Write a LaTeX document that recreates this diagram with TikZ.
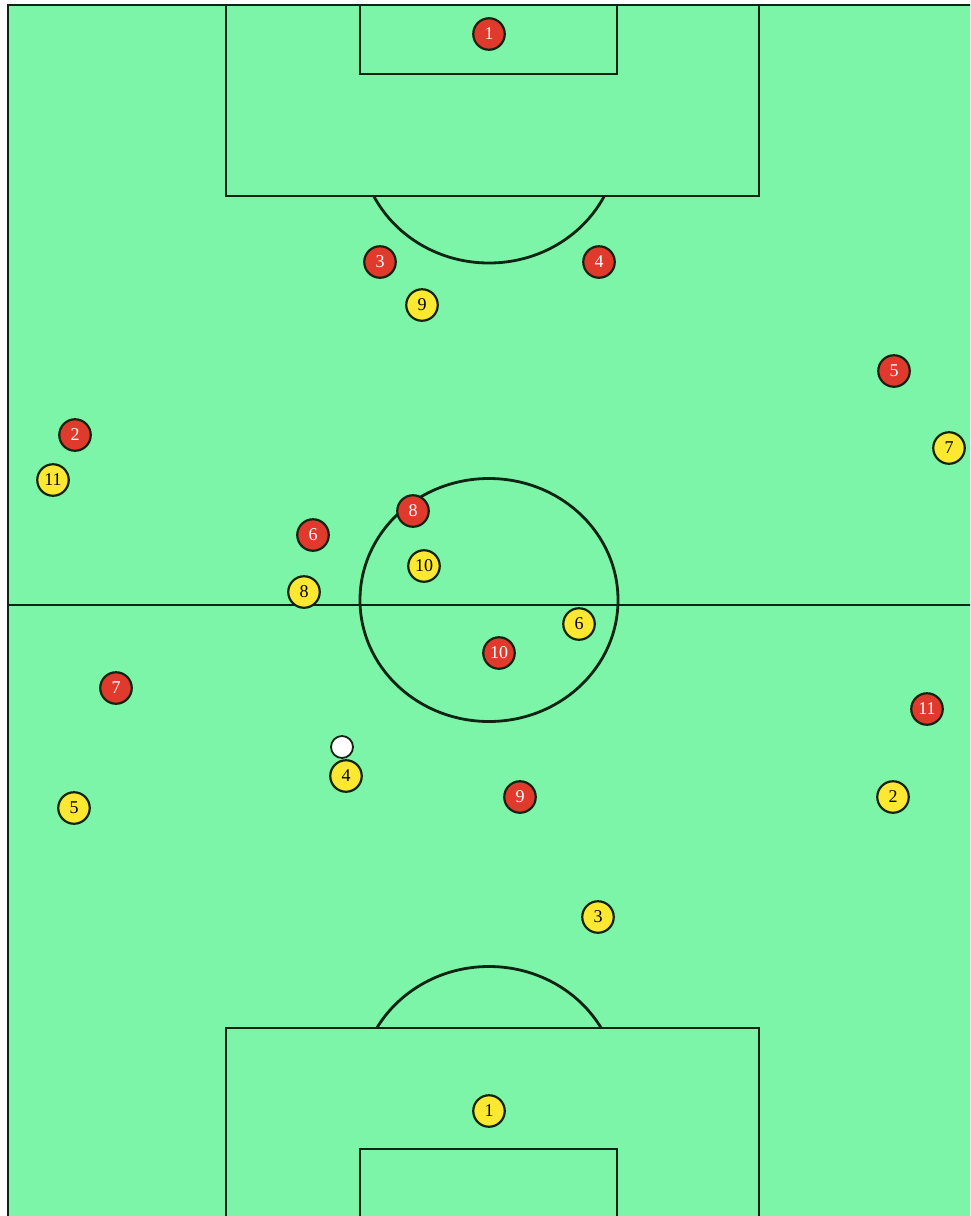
\documentclass[tikz,border=0pt]{standalone}
\usepackage{fontspec}
\setmainfont{Liberation Serif}
\definecolor{pitch}{RGB}{124,245,168}
\definecolor{redp}{RGB}{224,58,44}
\definecolor{yelp}{RGB}{252,232,48}
\definecolor{lin}{RGB}{16,36,20}
\tikzset{
  pline/.style={draw=lin, line width=2.8pt},
  player/.style={circle, draw=lin, line width=2.2pt, minimum size=31.5pt, inner sep=0pt,
    font=\fontsize{18}{18}\selectfont},
  redpl/.style={player, fill=redp, text=white},
  yelpl/.style={player, fill=yelp, text=black},
  ballst/.style={circle, draw=lin, line width=1.8pt, fill=white, minimum size=22pt, inner sep=0pt}
}
\begin{document}
\begin{tikzpicture}[x=1pt,y=-1pt]
\useasboundingbox (0,0) rectangle (970,1216);
\clip (0,0) rectangle (970,1216);
\fill[white] (0,0) rectangle (970,1216);
\fill[pitch] (8,5) rectangle (975,1220);
% outer lines
\draw[pline] (8,1225) -- (8,5) -- (975,5);
% halfway line
\draw[pline] (8,605) -- (975,605);
% top boxes
\draw[pline] (226,5) rectangle (759,196);
\draw[pline] (360,5) rectangle (617,74);
% bottom boxes
\draw[pline] (226,1240) -- (226,1028) -- (759,1028) -- (759,1240);
\draw[pline] (360,1240) -- (360,1149) -- (617,1149) -- (617,1240);
% centre circle
\draw[pline] (489,600) ellipse [x radius=129pt, y radius=121.5pt];
% penalty arcs
\begin{scope}
  \clip (0,197) rectangle (970,400);
  \draw[pline] (489,141.5) ellipse [x radius=129pt, y radius=121.5pt];
\end{scope}
\begin{scope}
  \clip (0,900) rectangle (970,1027);
  \draw[pline] (489,1088) ellipse [x radius=129pt, y radius=121.5pt];
\end{scope}
% ball
\node[ballst] (ball) at (342,747) {};
% red team
\node[redpl] (r1) at (489,34) {1};
\node[redpl] (r2) at (75,435) {2};
\node[redpl] (r3) at (380,262) {3};
\node[redpl] (r4) at (599,262) {4};
\node[redpl] (r5) at (894,371) {5};
\node[redpl] (r6) at (313,535) {6};
\node[redpl] (r7) at (116,688) {7};
\node[redpl] (r8) at (413,511) {8};
\node[redpl] (r9) at (520,797) {9};
\node[redpl] (r10) at (499,653) {10};
\node[redpl] (r11) at (927,709) {11};
% yellow team
\node[yelpl] (y1) at (489,1111) {1};
\node[yelpl] (y2) at (893,797) {2};
\node[yelpl] (y3) at (598,917) {3};
\node[yelpl] (y4) at (346,776) {4};
\node[yelpl] (y5) at (74,808) {5};
\node[yelpl] (y6) at (579,624) {6};
\node[yelpl] (y7) at (949,448) {7};
\node[yelpl] (y8) at (304,592) {8};
\node[yelpl] (y9) at (422,305) {9};
\node[yelpl] (y10) at (424,566) {10};
\node[yelpl] (y11) at (53,480) {11};
\end{tikzpicture}
\end{document}
